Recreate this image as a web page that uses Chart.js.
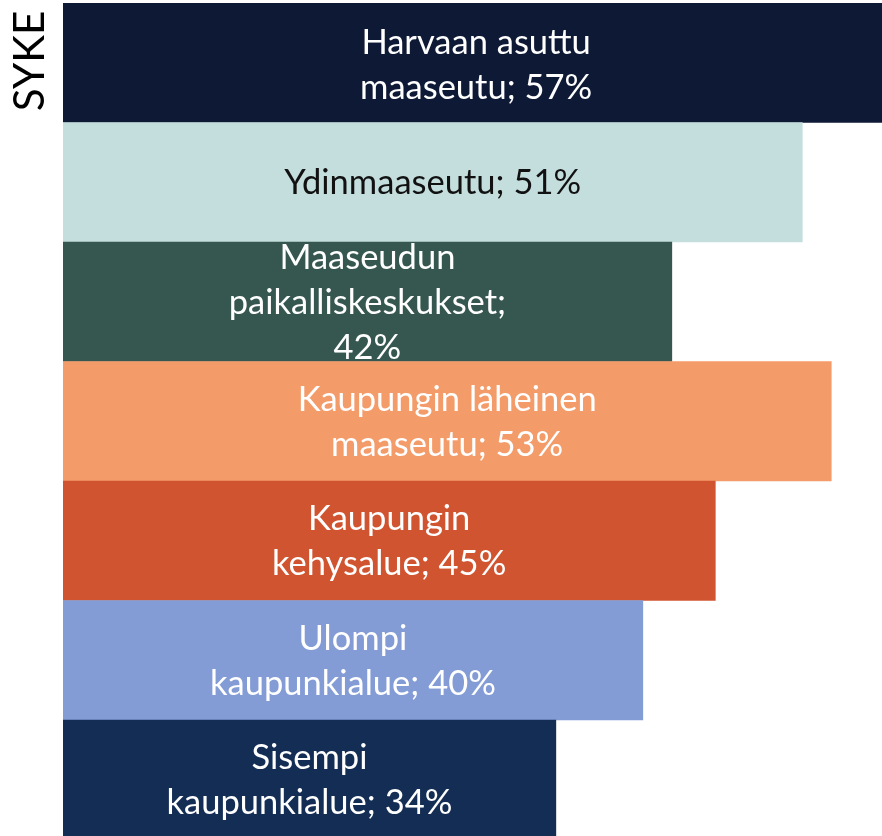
<!DOCTYPE html>
<html>
<head>
<meta charset="utf-8">
<script src="https://cdn.jsdelivr.net/npm/chart.js@4.4.1/dist/chart.umd.min.js"></script>
<style>
    html, body { margin: 0; padding: 0; background: #fff; overflow: hidden; }
    #wrap { position: relative; width: 882px; height: 840px; }
</style>
</head>
<body>
<div id="wrap"><canvas id="sykeChart"></canvas></div>
<script>
// area types (SYKE urban-rural classification) and their shares
const categories = [
    "Harvaan asuttu maaseutu",
    "Ydinmaaseutu",
    "Maaseudun paikalliskeskukset",
    "Kaupungin läheinen maaseutu",
    "Kaupungin kehysalue",
    "Ulompi kaupunkialue",
    "Sisempi kaupunkialue"
];
const shares = [57, 51, 42, 53, 45, 40, 34];

// how the labels wrap inside the bars
const labelLines = [
    ["Harvaan asuttu", "maaseutu; 57%"],
    ["Ydinmaaseutu; 51%"],
    ["Maaseudun", "paikalliskeskukset;", "42%"],
    ["Kaupungin läheinen", "maaseutu; 53%"],
    ["Kaupungin", "kehysalue; 45%"],
    ["Ulompi", "kaupunkialue; 40%"],
    ["Sisempi", "kaupunkialue; 34%"]
];

const barColors = ["#0e1a35", "#c4dedd", "#365750", "#f49b6a", "#d05430", "#839cd6", "#142d54"];
const textColors = ["#ffffff", "#111111", "#ffffff", "#ffffff", "#ffffff", "#ffffff", "#ffffff"];
const axisTitle = "SYKE";

const textFont = "Lato, 'Open Sans', sans-serif";

const barLabelsPlugin = {
    id: "barLabels",
    afterDatasetsDraw(chart) {
        const ctx = chart.ctx;
        const meta = chart.getDatasetMeta(0);
        ctx.save();
        ctx.font = "34.5px " + textFont;
        ctx.textAlign = "center";
        ctx.textBaseline = "middle";
        meta.data.forEach((bar, i) => {
            const lines = labelLines[i];
            const cx = (bar.base + bar.x) / 2;
            const lh = 45;
            const shift = i === 0 ? 3 : 1;
            const startY = bar.y - (lines.length - 1) * lh / 2 + shift;
            ctx.fillStyle = textColors[i];
            lines.forEach((line, j) => {
                ctx.fillText(line, cx, startY + j * lh);
            });
        });
        // vertical "SYKE" at the top left
        ctx.fillStyle = "#000";
        ctx.font = "42px " + textFont;
        ctx.translate(30, 61);
        ctx.rotate(-Math.PI / 2);
        ctx.fillText(axisTitle, 0, 0);
        ctx.restore();
    }
};

new Chart("sykeChart", {
    type: "bar",
    data: {
        labels: categories,
        datasets: [{
            data: shares,
            backgroundColor: barColors,
            borderWidth: 0,
            barPercentage: 1,
            categoryPercentage: 1
        }]
    },
    options: {
        indexAxis: "y",
        responsive: true,
        maintainAspectRatio: false,
        animation: false,
        layout: {
            padding: { left: 63, top: 3, right: 0, bottom: 0.5 }
        },
        scales: {
            x: { display: false, min: 0, max: 56.5 },
            y: { display: false }
        },
        plugins: {
            legend: { display: false },
            tooltip: { enabled: false }
        }
    },
    plugins: [barLabelsPlugin]
});
</script>
</body>
</html>
